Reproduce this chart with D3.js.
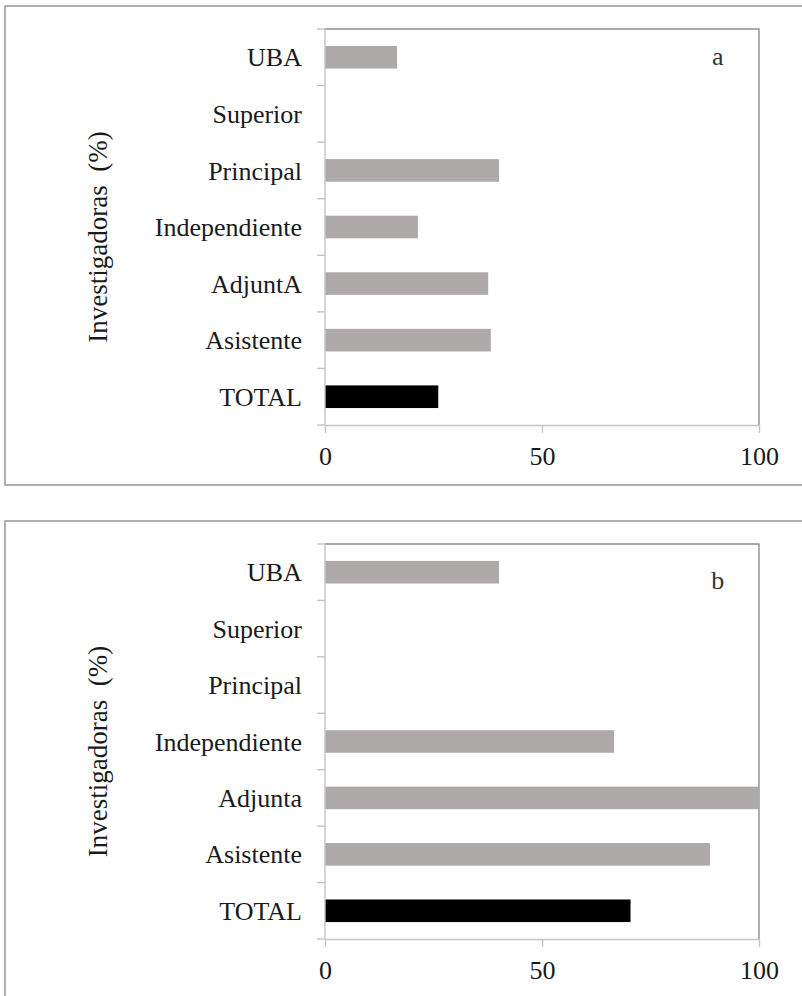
<!DOCTYPE html>
<html>
<head>
<meta charset="utf-8">
<script src="https://cdn.jsdelivr.net/npm/d3@7"></script>
<style>
  html, body { margin: 0; padding: 0; background: #fff; }
  svg { display: block; }
</style>
</head>
<body>
<svg id="chart" width="802" height="996"></svg>
<script>
// Categories listed top to bottom
const categoriesA = ["UBA", "Superior", "Principal", "Independiente", "AdjuntA", "Asistente", "TOTAL"];
const categoriesB = ["UBA", "Superior", "Principal", "Independiente", "Adjunta", "Asistente", "TOTAL"];

// Percentage of women researchers per category
const valuesA = [16.6, 0, 40.1, 21.4, 37.6, 38.2, 26.1];
const valuesB = [40.1, 0, 0, 66.6, 100, 88.7, 70.4];

const xTicks = [0, 50, 100];
const yTitle = "Investigadoras  (%)";
const panelLetters = ["a", "b"];

const svg = d3.select("#chart");
const FONT = "Liberation Serif";
const GRAY_BAR = "#aeaaaa";

function drawPanel(opts) {
  const { categories, values, letter, box, plot } = opts;

  // Outer frame of the panel
  svg.append("rect")
    .attr("x", box.x).attr("y", box.y)
    .attr("width", box.w).attr("height", box.h)
    .attr("fill", "none").attr("stroke", "#9c9c9c").attr("stroke-width", 1.6);

  const x = d3.scaleLinear().domain([0, 100]).range([plot.left, plot.right]);
  const y = d3.scaleBand().domain(categories)
    .range([plot.top, plot.bottom])
    .paddingInner(0.6).paddingOuter(0.3);

  const g = svg.append("g");

  // Plot area border (top and right)
  g.append("path")
    .attr("d", `M${plot.left},${plot.top}H${plot.right}V${plot.bottom}`)
    .attr("fill", "none").attr("stroke", "#8e8e8e").attr("stroke-width", 1.4);

  // Bars
  const rows = categories.map((c, i) => ({ c, v: values[i] }));
  g.selectAll("rect.bar").data(rows).enter().append("rect")
    .attr("class", "bar")
    .attr("x", x(0))
    .attr("y", d => y(d.c))
    .attr("width", d => x(d.v) - x(0))
    .attr("height", y.bandwidth())
    .attr("fill", d => d.c === "TOTAL" ? "#000" : GRAY_BAR);

  // Category axis: line, boundary ticks and labels
  g.append("line")
    .attr("x1", plot.left).attr("x2", plot.left)
    .attr("y1", plot.top).attr("y2", plot.bottom)
    .attr("stroke", "#c4c4c4").attr("stroke-width", 1.4);

  const bounds = d3.range(categories.length + 1).map(i => plot.top + i * y.step());
  g.selectAll("line.ytick").data(bounds).enter().append("line")
    .attr("class", "ytick")
    .attr("x1", plot.left - 8).attr("x2", plot.left)
    .attr("y1", d => d).attr("y2", d => d)
    .attr("stroke", "#c4c4c4").attr("stroke-width", 1.4);

  g.selectAll("text.ylab").data(categories).enter().append("text")
    .attr("class", "ylab")
    .attr("x", plot.left - 23)
    .attr("y", d => y(d) + y.bandwidth() / 2)
    .attr("dy", "0.35em")
    .attr("text-anchor", "end")
    .style("font-family", FONT)
    .style("font-size", "26px")
    .attr("fill", "#1a1a1a")
    .text(d => d);

  // Value axis
  const xAxis = g.append("g")
    .attr("transform", `translate(0,${plot.bottom})`)
    .call(d3.axisBottom(x).tickValues(xTicks).tickSize(8).tickSizeOuter(0));
  xAxis.select(".domain").attr("stroke", "#c4c4c4").attr("stroke-width", 1.4);
  xAxis.selectAll(".tick line").attr("stroke", "#c4c4c4").attr("stroke-width", 1.4);
  xAxis.selectAll(".tick text")
    .attr("y", 40).attr("dy", 0)
    .style("font-family", FONT)
    .style("font-size", "26px")
    .attr("fill", "#1a1a1a");

  // Axis title
  const cy = (plot.top + plot.bottom) / 2 + 10;
  svg.append("text")
    .attr("transform", `translate(107,${cy}) rotate(-90)`)
    .attr("text-anchor", "middle")
    .style("font-family", FONT)
    .style("font-size", "27px")
    .style("white-space", "pre")
    .attr("fill", "#1a1a1a")
    .text(yTitle);

  // Panel letter
  svg.append("text")
    .attr("x", x(90.5))
    .attr("y", y(categories[0]) + y.bandwidth() / 2 + opts.letterDy)
    .attr("text-anchor", "middle")
    .style("font-family", FONT)
    .style("font-size", "26px")
    .attr("fill", "#333")
    .text(letter);
}

drawPanel({
  categories: categoriesA, values: valuesA, letter: panelLetters[0],
  box: { x: 5, y: 6, w: 805, h: 479 },
  plot: { left: 325, right: 759, top: 29, bottom: 425 },
  letterDy: 8
});

drawPanel({
  categories: categoriesB, values: valuesB, letter: panelLetters[1],
  box: { x: 5, y: 521, w: 805, h: 490 },
  plot: { left: 325, right: 759, top: 544, bottom: 939 },
  letterDy: 17
});
</script>
</body>
</html>
